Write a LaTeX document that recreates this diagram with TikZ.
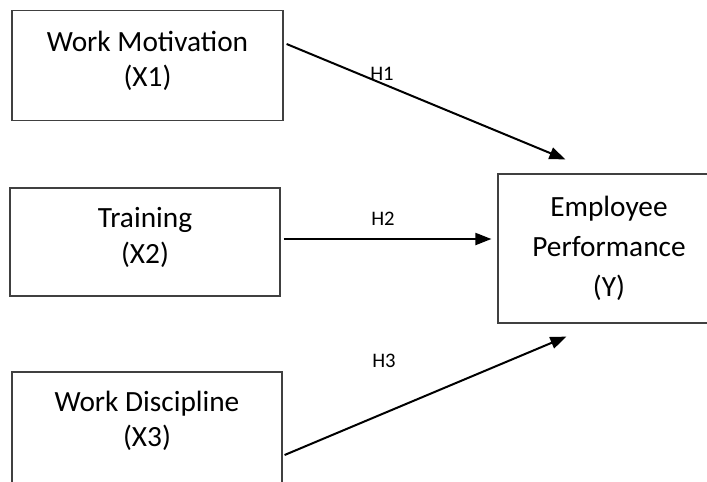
\documentclass[tikz,border=0pt]{standalone}
\usepackage{fontspec}
\setmainfont{Carlito}
\usetikzlibrary{positioning,calc,arrows.meta}
\tikzstyle{box}=[draw=black!75, line width=0.9pt, align=center, inner sep=0pt, font=\fontsize{22}{26.5}\selectfont]
\tikzstyle{arr}=[line width=1.5pt, -{Triangle[length=12pt,width=9pt]}]
\tikzstyle{hyp}=[font=\fontsize{15.5}{17}\selectfont, inner sep=0pt]

\begin{document}
\begin{tikzpicture}[x=0.75pt, y=-0.75pt]
				\useasboundingbox (0,0) rectangle (707,482);
				\clip (0,0) rectangle (707,482);

				\node[box, text depth=10pt, minimum width=271*0.75pt, minimum height=110*0.75pt] (x1) at (147.5, 65.5) {Work Motivation\\(X1)};
				\node[box, text depth=10pt, minimum width=270*0.75pt, minimum height=108*0.75pt] (x2) at (145, 242) {Training\\(X2)};
				\node[box, text depth=27pt, minimum width=270*0.75pt, minimum height=130*0.75pt] (x3) at (147, 437) {Work Discipline\\(X3)};
				\node[box, font=\fontsize{22}{30}\selectfont, minimum width=222*0.75pt, minimum height=149*0.75pt] (y) at (609, 248.5) {Employee\\Performance\\(Y)};

				\node[hyp] (h1) at (382, 74) {H1};
				\node[hyp] (h2) at (383, 219) {H2};
				\node[hyp] (h3) at (384, 361) {H3};

				\draw[arr] ([shift={(3,-21.5)}]x1.east) -- ([shift={(68,-14)}]y.north west);
				\draw[arr] ([shift={(3,-3)}]x2.east) -- ([shift={(-6,-9.5)}]y.west);
				\draw[arr] ([shift={(2,18)}]x3.east) -- ([shift={(69,13)}]y.south west);
\end{tikzpicture}
\end{document}
